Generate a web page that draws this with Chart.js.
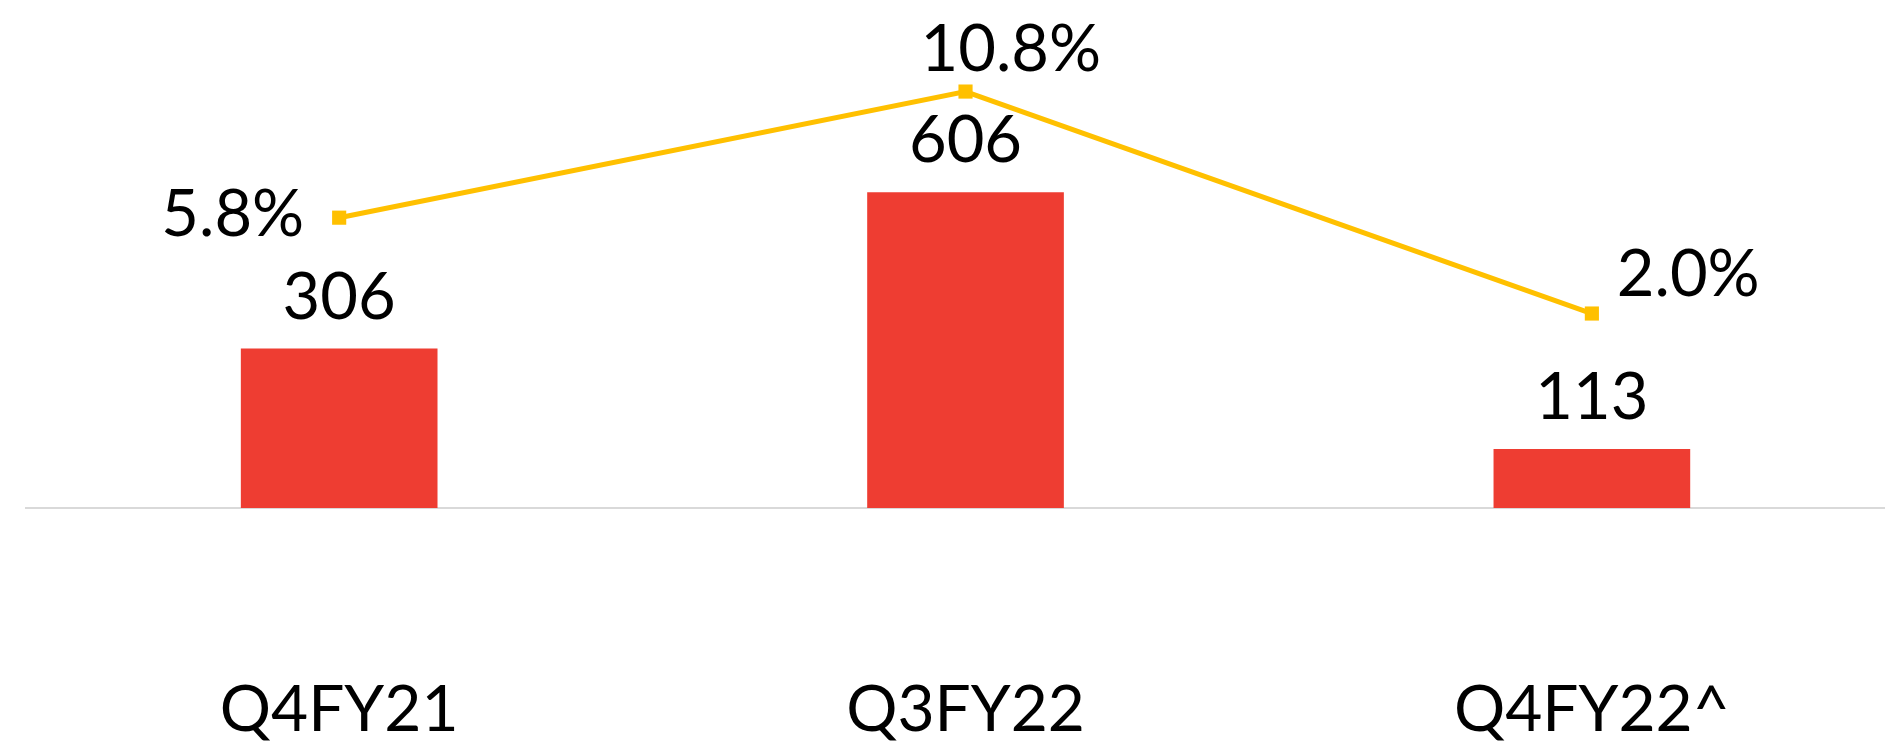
<!DOCTYPE html>
<html>
<head>
<meta charset="utf-8">
<script src="https://cdn.jsdelivr.net/npm/chart.js@4.4.1/dist/chart.umd.min.js"></script>
<style>
  html, body { margin: 0; padding: 0; background: #fff; }
  #wrap { width: 1885px; height: 741px; position: relative; }
</style>
</head>
<body>
<div id="wrap"><canvas id="graficoTrimestres"></canvas></div>
<script>
// datos
const trimestres = ['Q4FY21', 'Q3FY22', 'Q4FY22^'];
const volumen = [306, 606, 113];
const margen = [5.8, 10.8, 2.0];

const FUENTE = 'Lato';

// posicion de las etiquetas de porcentaje respecto al punto
const posPorcentaje = [
    { align: 'right', dx: -35, dy: 18 },
    { align: 'left', dx: -45, dy: -21 },
    { align: 'left', dx: 25, dy: -18 }
];

const etiquetasValores = {
    id: 'etiquetasValores',
    afterDatasetsDraw(chart) {
        const ctx = chart.ctx;
        ctx.save();
        ctx.font = '65px ' + FUENTE;
        ctx.fillStyle = '#000000';
        ctx.textBaseline = 'alphabetic';

        chart.getDatasetMeta(1).data.forEach(function(barra, i) {
            ctx.textAlign = 'center';
            ctx.fillText(String(volumen[i]), barra.x, barra.y - 30);
        });

        chart.getDatasetMeta(0).data.forEach(function(punto, i) {
            const p = posPorcentaje[i];
            ctx.textAlign = p.align;
            ctx.fillText(margen[i].toFixed(1) + '%', punto.x + p.dx, punto.y + p.dy);
        });
        ctx.restore();
    }
};

document.addEventListener('DOMContentLoaded', function() {
    const ctx = document.getElementById('graficoTrimestres');

    const puntosMargen = margen.map(function(v, i) { return { x: i, y: v }; });
    const puntosVolumen = volumen.map(function(v, i) { return { x: i, y: v }; });

    new Chart(ctx, {
        type: 'bar',
        data: {
            datasets: [{
                type: 'line',
                label: 'Margen',
                data: puntosMargen,
                yAxisID: 'y1',
                borderColor: '#FFC000',
                backgroundColor: '#FFC000',
                borderWidth: 5,
                pointStyle: 'rect',
                pointRadius: 10,
                pointBorderWidth: 0,
                tension: 0,
                order: 0
            }, {
                type: 'bar',
                label: 'Volumen',
                data: puntosVolumen,
                yAxisID: 'y',
                backgroundColor: '#EE3D32',
                categoryPercentage: 1,
                barPercentage: 0.314,
                order: 1
            }]
        },
        options: {
            responsive: true,
            maintainAspectRatio: false,
            animation: false,
            layout: {
                autoPadding: false,
                padding: { left: 26, right: 0, top: 0, bottom: 0 }
            },
            plugins: {
                legend: { display: false },
                tooltip: { enabled: false }
            },
            scales: {
                x: {
                    type: 'linear',
                    offset: false,
                    bounds: 'data',
                    min: -0.5,
                    max: 2.468,
                    grid: { display: false, drawTicks: false },
                    border: { display: true, color: '#D9D9D9', width: 2 },
                    ticks: {
                        color: '#000000',
                        padding: 164,
                        autoSkip: false,
                        maxRotation: 0,
                        font: { family: FUENTE, size: 64 },
                        callback: function(valor) {
                            return trimestres[valor] || '';
                        }
                    },
                    afterBuildTicks: function(escala) {
                        escala.ticks = trimestres.map(function(t, i) { return { value: i }; });
                    },
                    afterFit: function(escala) {
                        escala.height = 233;
                        escala.paddingLeft = 0;
                        escala.paddingRight = 0;
                    }
                },
                y: {
                    display: false,
                    min: 0,
                    max: 975
                },
                y1: {
                    display: false,
                    position: 'right',
                    min: -5.71,
                    max: 14.43
                }
            }
        },
        plugins: [etiquetasValores]
    });
});
</script>
</body>
</html>
